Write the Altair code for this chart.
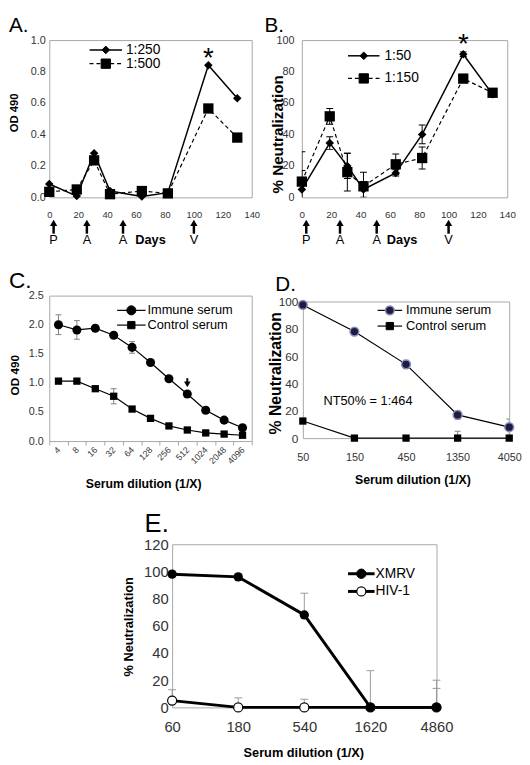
import altair as alt
import pandas as pd

FONT = "Liberation Sans"
GRAY = "#a6a6a6"
LABEL = "#333333"

# ---------------- data ----------------
# Panels A / B (days after first immunisation)
days = [0, 19, 31, 42, 64, 82, 110, 130]
a_250 = [0.085, 0.008, 0.28, 0.04, 0.005, 0.03, 0.84, 0.63]
a_500 = [0.035, 0.05, 0.235, 0.02, 0.04, 0.025, 0.565, 0.38]
b_50 = [5, 34.5, 20, 5, 15.5, 40, 91, 65.5]
b_50_err = [12, 4, 8, 5, 2, 6, 1.5, 1.5]
b_150 = [10, 51.5, 16, 7, 21, 25, 75.5, 66.5]
b_150_err = [19, 5, 12, 9, 6.5, 7, 1, 1.5]
day_ticks = [0, 20, 40, 60, 80, 100, 120, 140]
boost_days = [3, 26, 51, 100]
boost_labels = ["P", "A", "A", "V"]
star_day = [110]

# Panel C
c_dil = ["4", "8", "16", "32", "64", "128", "256", "512", "1024", "2048", "4096"]
c_immune = [2.0, 1.91, 1.94, 1.82, 1.61, 1.35, 1.07, 0.81, 0.53, 0.36, 0.23]
c_immune_err = [0.17, 0.16, 0.03, 0.03, 0.1, 0.03, 0.03, 0.03, 0.03, 0.03, 0.03]
c_control = [1.03, 1.03, 0.9, 0.77, 0.55, 0.39, 0.26, 0.19, 0.14, 0.12, 0.10]
c_control_err = [0.02, 0.02, 0.02, 0.13, 0.02, 0.02, 0.02, 0.02, 0.02, 0.02, 0.02]
c_arrow_at = ["512"]
c_arrow_top = [1.08]
c_arrow_shaft_end = [1.0]
c_arrow_head = [0.975]

# Panel D
d_dil = ["50", "150", "450", "1350", "4050"]
d_immune = [97.5, 78, 54, 17, 8]
d_immune_err = [1.5, 2, 3, 3, 6]
d_control = [12.5, 0, 0, 0, 0]
d_control_err = [1, 0, 0, 5, 0]

# Panel E
e_dil = ["60", "180", "540", "1620", "4860"]
e_xmrv = [98, 96, 68, 0, 0]
e_xmrv_err = [1, 2, 16, 27, 20]
e_hiv = [5, 0, 0, 0, 0]
e_hiv_err = [8, 7, 6, 0, 14]

ONE = pd.DataFrame({"k": [0]})


def axis(**kw):
    base = dict(domain=False, grid=False, labelFont=FONT, labelColor=LABEL,
                ticks=False, title=None, labelFlush=False, labelOverlap=False)
    base.update(kw)
    return alt.Axis(**base)


def frame():
    return alt.ViewBackground(stroke=GRAY, strokeWidth=1)


def text_at(x, y, txt, size, align="left", baseline="middle", weight="normal", angle=0):
    return alt.Chart(ONE).mark_text(text=txt, fontSize=size, align=align, angle=angle,
                                    baseline=baseline, font=FONT, fontWeight=weight,
                                    color="black").encode(x=alt.value(x), y=alt.value(y))


def ytitle(x, y, txt, size):
    return text_at(x, y, txt, size, align="center", baseline="middle", weight="bold", angle=270)


def xtitle(x, y, txt, size):
    return text_at(x, y, txt, size, align="center", baseline="middle", weight="bold")


def legend_item(x0, x1, y, label, shape, size, fs, dash=None, sw=1.5,
                fill="black", stroke="black", mstroke=1, label_x=None):
    kw = dict(color="black", strokeWidth=sw)
    if dash:
        kw["strokeDash"] = dash
    ln = alt.Chart(ONE).mark_rule(**kw).encode(x=alt.value(x0), x2=alt.value(x1), y=alt.value(y))
    pt = alt.Chart(ONE).mark_point(shape=shape, size=size, filled=True, fill=fill,
                                   stroke=stroke, strokeWidth=mstroke, opacity=1).encode(
        x=alt.value((x0 + x1) / 2), y=alt.value(y))
    tx = text_at(label_x if label_x is not None else x1 + 4, y, label, fs)
    return [ln, pt, tx]


def arrows(xenc, H, dfx):
    shaft = alt.Chart(dfx).mark_rule(color="black", strokeWidth=2.5).encode(
        x=xenc, y=alt.value(H + 27), y2=alt.value(H + 37))
    head = alt.Chart(dfx).mark_point(shape="triangle-up", filled=True, size=55,
                                     color="black", opacity=1).encode(x=xenc, y=alt.value(H + 26))
    lab = alt.Chart(dfx).mark_text(fontSize=13, font=FONT, baseline="middle",
                                   color="black").encode(x=xenc, y=alt.value(H + 43), text="lab:N")
    return [shaft, head, lab]


# ---------------- Panel A ----------------
WA, HA = 206, 160
dfA = pd.DataFrame({"day": days * 2, "v": a_250 + a_500,
                    "s": ["1:250"] * len(days) + ["1:500"] * len(days)})
xA = alt.X("day:Q", scale=alt.Scale(domain=[0, 140], nice=False, zero=False),
           axis=axis(values=day_ticks, labelFontSize=9.5, labelPadding=13))
yA = alt.Y("v:Q", scale=alt.Scale(domain=[0, 1], nice=False),
           axis=axis(values=[0, 0.2, 0.4, 0.6, 0.8, 1.0], format=".1f",
                     labelFontSize=11, labelPadding=4))
baseA = alt.Chart(dfA).encode(x=xA, y=yA)
A_layers = [
    baseA.transform_filter(alt.datum.s == "1:250").mark_line(color="black", strokeWidth=1.5),
    baseA.transform_filter(alt.datum.s == "1:500").mark_line(color="black", strokeWidth=1.2, strokeDash=[4, 3]),
    baseA.transform_filter(alt.datum.s == "1:250").mark_point(shape="diamond", filled=True, size=75, color="black", opacity=1),
    baseA.transform_filter(alt.datum.s == "1:500").mark_point(shape="square", filled=True, size=110, color="black", opacity=1),
    alt.Chart(pd.DataFrame({"day": star_day, "v": [max(a_250)]})).mark_text(
        text="*", fontSize=28, font=FONT, dy=-6, baseline="middle", color="black").encode(x=xA, y=yA),
    ytitle(-35, 74, "OD 490", 11.5),
    xtitle(103, HA + 43, "Days", 13),
]
A_layers += arrows(xA, HA, pd.DataFrame({"day": boost_days, "lab": boost_labels}))
A_layers += legend_item(41, 74, 10, "1:250", "diamond", 60, 14, label_x=78)
A_layers += legend_item(41, 74, 24, "1:500", "square", 90, 14, dash=[4, 3], sw=1.2, label_x=78)
A_layers.append(text_at(-41, -25, "A.", 21, baseline="top"))
chartA = alt.layer(*A_layers).properties(width=WA, height=HA, view=frame())

# ---------------- Panel B ----------------
WB, HB = 209, 160
dfB = pd.DataFrame({"day": days * 2, "v": b_50 + b_150, "e": b_50_err + b_150_err,
                    "s": ["1:50"] * len(days) + ["1:150"] * len(days)})
dfB["lo"] = dfB["v"] - dfB["e"]
dfB["hi"] = dfB["v"] + dfB["e"]
xB = alt.X("day:Q", scale=alt.Scale(domain=[0, 140], nice=False, zero=False),
           axis=axis(values=day_ticks, labelFontSize=10, labelPadding=13))
scB = alt.Scale(domain=[0, 100], nice=False)
axB = axis(values=[0, 20, 40, 60, 80, 100], labelFontSize=11, labelPadding=8)


def yB(f):
    return alt.Y(f"{f}:Q", scale=scB, axis=axB)


baseB = alt.Chart(dfB)
B_layers = [
    baseB.mark_rule(color="black", strokeWidth=1, clip=True).encode(x=xB, y=yB("lo"), y2="hi:Q"),
    baseB.mark_tick(orient="horizontal", size=7, thickness=1, color="black", clip=True, opacity=1).encode(x=xB, y=yB("lo")),
    baseB.mark_tick(orient="horizontal", size=7, thickness=1, color="black", clip=True, opacity=1).encode(x=xB, y=yB("hi")),
    baseB.transform_filter(alt.datum.s == "1:50").mark_line(color="black", strokeWidth=1.5).encode(x=xB, y=yB("v")),
    baseB.transform_filter(alt.datum.s == "1:150").mark_line(color="black", strokeWidth=1.2, strokeDash=[4, 3]).encode(x=xB, y=yB("v")),
    baseB.transform_filter(alt.datum.s == "1:50").mark_point(shape="diamond", filled=True, size=75, color="black", opacity=1).encode(x=xB, y=yB("v")),
    baseB.transform_filter(alt.datum.s == "1:150").mark_point(shape="square", filled=True, size=110, color="black", opacity=1).encode(x=xB, y=yB("v")),
    alt.Chart(pd.DataFrame({"day": star_day, "v": [max(b_50)]})).mark_text(
        text="*", fontSize=28, font=FONT, dy=-9, baseline="middle", color="black").encode(x=xB, y=yB("v")),
    ytitle(-24, 96, "% Neutralization", 15.5),
    xtitle(102, HB + 43, "Days", 13),
]
B_layers += arrows(xB, HB, pd.DataFrame({"day": boost_days, "lab": boost_labels}))
B_layers += legend_item(47, 79, 16, "1:50", "diamond", 60, 14, label_x=84)
B_layers += legend_item(47, 79, 39, "1:150", "square", 90, 14, dash=[4, 3], sw=1.2, label_x=84)
B_layers.append(text_at(-38, -25, "B.", 21, baseline="top"))
chartB = alt.layer(*B_layers).properties(width=WB, height=HB, view=frame())

# ---------------- Panel C ----------------
WC, HC = 206, 148
dfC = pd.DataFrame({"dil": c_dil * 2, "v": c_immune + c_control, "e": c_immune_err + c_control_err,
                    "s": ["Immune serum"] * len(c_dil) + ["Control serum"] * len(c_dil)})
dfC["lo"] = dfC["v"] - dfC["e"]
dfC["hi"] = dfC["v"] + dfC["e"]
xC = alt.X("dil:N", sort=c_dil, scale=alt.Scale(type="band", paddingInner=0, paddingOuter=0),
           axis=axis(labelAngle=315, labelFontSize=9, labelAlign="right", labelBaseline="middle",
                     ticks=True, tickSize=4, tickColor=GRAY, tickBand="extent", labelPadding=3))
scC = alt.Scale(domain=[0, 2.5], nice=False)
axC = axis(values=[0, 0.5, 1.0, 1.5, 2.0, 2.5], format=".1f", labelFontSize=11, labelPadding=6)


def yC(f):
    return alt.Y(f"{f}:Q", scale=scC, axis=axC)


baseC = alt.Chart(dfC)
dfCa = pd.DataFrame({"dil": c_arrow_at, "top": c_arrow_top, "end": c_arrow_shaft_end, "head": c_arrow_head})
C_layers = [
    baseC.mark_rule(color="#808080", strokeWidth=1).encode(x=xC, y=yC("lo"), y2="hi:Q"),
    baseC.mark_tick(orient="horizontal", size=6, thickness=1, color="#808080", opacity=1).encode(x=xC, y=yC("lo")),
    baseC.mark_tick(orient="horizontal", size=6, thickness=1, color="#808080", opacity=1).encode(x=xC, y=yC("hi")),
    baseC.mark_line(color="black", strokeWidth=1.2).encode(x=xC, y=yC("v"), detail="s:N"),
    baseC.transform_filter(alt.datum.s == "Immune serum").mark_point(shape="circle", filled=True, size=85, color="black", opacity=1).encode(x=xC, y=yC("v")),
    baseC.transform_filter(alt.datum.s == "Control serum").mark_point(shape="square", filled=True, size=55, color="black", opacity=1).encode(x=xC, y=yC("v")),
    alt.Chart(dfCa).mark_rule(color="black", strokeWidth=2).encode(x=xC, y=yC("top"), y2="end:Q"),
    alt.Chart(dfCa).mark_point(shape="triangle-down", filled=True, size=45, color="black", opacity=1).encode(x=xC, y=yC("head")),
    ytitle(-35, 81, "OD 490", 12),
    xtitle(96, HC + 44, "Serum dilution (1/X)", 12.5),
]
C_layers += legend_item(69, 98, 15, "Immune serum", "circle", 85, 13, sw=1.2, label_x=100)
C_layers += legend_item(69, 98, 30, "Control serum", "square", 55, 13, sw=1.2, label_x=100)
C_layers.append(text_at(-41, -26, "C.", 23, baseline="top"))
chartC = alt.layer(*C_layers).properties(width=WC, height=HC, view=frame())

# ---------------- Panel D ----------------
WD, HD = 210, 139
dfD = pd.DataFrame({"dil": d_dil * 2, "v": d_immune + d_control, "e": d_immune_err + d_control_err,
                    "s": ["Immune serum"] * len(d_dil) + ["Control serum"] * len(d_dil)})
dfD["lo"] = dfD["v"] - dfD["e"]
dfD["hi"] = dfD["v"] + dfD["e"]
xD = alt.X("dil:N", sort=d_dil, scale=alt.Scale(type="point", padding=0),
           axis=axis(labelAngle=0, labelFontSize=11, labelPadding=14))
scD = alt.Scale(domain=[0, 100], nice=False)
axD = axis(values=[0, 20, 40, 60, 80, 100], labelFontSize=12, labelPadding=5)


def yD(f):
    return alt.Y(f"{f}:Q", scale=scD, axis=axD)


baseD = alt.Chart(dfD)
errD = baseD.transform_filter(alt.datum.e > 0)
D_layers = [
    errD.mark_rule(color="#808080", strokeWidth=1, clip=True).encode(x=xD, y=yD("lo"), y2="hi:Q"),
    errD.mark_tick(orient="horizontal", size=6, thickness=1, color="#808080", opacity=1, clip=True).encode(x=xD, y=yD("lo")),
    errD.mark_tick(orient="horizontal", size=6, thickness=1, color="#808080", opacity=1, clip=True).encode(x=xD, y=yD("hi")),
    baseD.mark_line(color="black", strokeWidth=1.2).encode(x=xD, y=yD("v"), detail="s:N"),
    baseD.transform_filter(alt.datum.s == "Immune serum").mark_point(shape="circle", filled=True, size=80, fill="#1c1c44", stroke="#8c8cb4", strokeWidth=1.5, opacity=1).encode(x=xD, y=yD("v")),
    baseD.transform_filter(alt.datum.s == "Control serum").mark_point(shape="square", filled=True, size=55, color="black", opacity=1).encode(x=xD, y=yD("v")),
    text_at(21, 101, "NT50% = 1:464", 13),
    ytitle(-27, 73, "% Neutralization", 16),
    xtitle(112, HD + 43, "Serum dilution (1/X)", 12.5),
]
D_layers += legend_item(76, 101, 9, "Immune serum", "circle", 80, 13, sw=1.2, fill="#1c1c44", stroke="#8c8cb4", mstroke=1.5, label_x=105)
D_layers += legend_item(76, 101, 25, "Control serum", "square", 55, 13, sw=1.2, label_x=105)
D_layers.append(text_at(-28, -27.5, "D.", 21, baseline="top"))
chartD = alt.layer(*D_layers).properties(width=WD, height=HD, view=frame())

# ---------------- Panel E ----------------
WE, HE = 269, 166
dfE = pd.DataFrame({"dil": e_dil * 2, "v": e_xmrv + e_hiv, "e": e_xmrv_err + e_hiv_err,
                    "s": ["XMRV"] * len(e_dil) + ["HIV-1"] * len(e_dil)})
dfE["hi"] = dfE["v"] + dfE["e"]
xE = alt.X("dil:N", sort=e_dil, scale=alt.Scale(type="point", padding=0),
           axis=axis(labelAngle=0, labelFontSize=15, labelPadding=13))
scE = alt.Scale(domain=[0, 120], nice=False)
axE = axis(values=[0, 20, 40, 60, 80, 100, 120], labelFontSize=15, labelPadding=4)


def yE(f):
    return alt.Y(f"{f}:Q", scale=scE, axis=axE)


baseE = alt.Chart(dfE)
errE = baseE.transform_filter(alt.datum.e > 0)
E_layers = [
    errE.mark_rule(color="#999999", strokeWidth=1).encode(x=xE, y=yE("v"), y2="hi:Q"),
    errE.mark_tick(orient="horizontal", size=8, thickness=1, color="#999999", opacity=1).encode(x=xE, y=yE("hi")),
    baseE.transform_filter(alt.datum.s == "HIV-1").mark_line(color="black", strokeWidth=3).encode(x=xE, y=yE("v")),
    baseE.transform_filter(alt.datum.s == "HIV-1").mark_point(shape="circle", filled=True, size=85, fill="white", stroke="black", strokeWidth=1.2, opacity=1).encode(x=xE, y=yE("v")),
    baseE.transform_filter(alt.datum.s == "XMRV").mark_line(color="black", strokeWidth=3).encode(x=xE, y=yE("v")),
    baseE.transform_filter(alt.datum.s == "XMRV").mark_point(shape="circle", filled=True, size=90, color="black", opacity=1).encode(x=xE, y=yE("v")),
    ytitle(-44, 84, "% Neutralization", 13),
    xtitle(134, HE + 46, "Serum dilution (1/X)", 13),
]
E_layers += legend_item(179, 206, 30, "XMRV", "circle", 90, 14, sw=3, label_x=207)
E_layers += legend_item(179, 206, 48, "HIV-1", "circle", 85, 14, sw=3, fill="white", stroke="black", mstroke=1.2, label_x=207)
E_layers.append(text_at(-28, -33, "E.", 26, baseline="top"))
chartE = alt.layer(*E_layers).properties(width=WE, height=HE, view=frame())


# ---------------- layout ----------------
def spacer(w, h):
    return alt.Chart(ONE).mark_point(opacity=0, size=0, strokeWidth=0).encode(
        x=alt.value(0), y=alt.value(0)).properties(width=w, height=h)


row1 = alt.hconcat(chartA, chartB, spacing=51, bounds="flush")
colD = alt.vconcat(spacer(1, 1), chartD, spacing=5, bounds="flush")
row2 = alt.hconcat(chartC, colD, spacing=52, bounds="flush")
row3 = alt.hconcat(spacer(1, 1), chartE, spacing=124, bounds="flush")
top = alt.vconcat(row1, row2, spacing=22)
# the E letter now sits 7px higher, so the row gap shrinks by the same amount
chart = alt.vconcat(top, row3, spacing=20, padding=0).configure_view(stroke=None)

chart.save("out.html", embed_options={"renderer": "svg", "actions": False})
